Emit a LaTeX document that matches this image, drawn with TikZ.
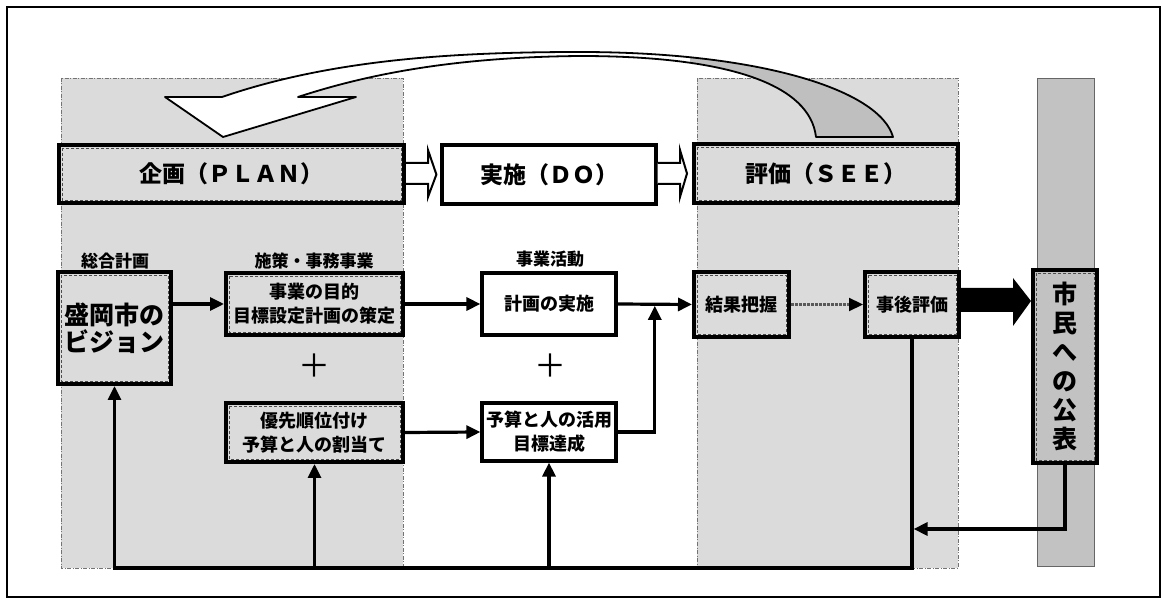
\documentclass[tikz,border=0pt]{standalone}
\usepackage{fontspec}
\newfontfamily\jp{Noto Sans CJK JP}
\usetikzlibrary{arrows.meta,calc}
\begin{document}
\begin{tikzpicture}[x=1pt,y=-1pt,
 region/.style={fill=gray!28, draw=black!55, dash pattern=on 4pt off 1.5pt on 1pt off 1.5pt, line width=0.6pt},
 shbox/.style={draw, line width=4pt, fill=gray!28, inner sep=0pt, align=center},
 whbox/.style={draw, line width=3.2pt, fill=white, inner sep=0pt, align=center},
 hdr/.style={font=\jp\bfseries\fontsize{23}{26}\selectfont},
 txt/.style={font=\jp\bfseries\fontsize{18}{24}\selectfont},
 lbl/.style={font=\jp\bfseries\fontsize{17}{20}\selectfont, inner sep=1pt},
 plus/.style={font=\jp\fontsize{32}{32}\selectfont, inner sep=0pt},
 conn/.style={line width=3.2pt, -{Triangle[length=14pt,width=13pt]}},
 hollow/.style={draw, line width=2pt, fill=white, line join=miter},
 innerfr/.style={draw=black!70, densely dashed, line width=0.5pt},
]
\useasboundingbox (0,0) rectangle (1163,601);
% frame
\draw[line width=1.5pt] (7,7) rectangle (1160,597);
% shaded regions
\path[region] (61,78) rectangle (403,568);
\path[region] (697,78) rectangle (958,568);
\path[fill=gray!48, draw=black!60, line width=0.6pt] (1037,78) rectangle (1094,566);
% curved feedback arrow
\path[save path=\swoosh] (222,97) -- (165,97) -- (223,137) -- (356,97) -- (298,97)
  .. controls (380,70) and (470,57) .. (580,56)
  .. controls (730,56) and (810,85) .. (816,137) -- (893,137)
  .. controls (880,90) and (760,52) .. (580,52)
  .. controls (450,52) and (330,60) .. (222,97) -- cycle;
\fill[white, use path=\swoosh];
\begin{scope}
 \clip[use path=\swoosh];
 \fill[gray!50] (690,40) rectangle (900,140);
\end{scope}
\draw[line width=1.8pt, line join=round, use path=\swoosh];
% header boxes
\node[shbox, hdr, minimum width=345pt, minimum height=58pt] (planH) at (231.5,174) {企画（ＰＬＡＮ）};
\node[whbox, hdr, minimum width=214pt, minimum height=59pt] (doH) at (549,174.5) {実施（ＤＯ）};
\node[shbox, hdr, minimum width=264pt, minimum height=59pt] (seeH) at (826,173.5) {評価（ＳＥＥ）};
% hollow arrows between headers
\filldraw[hollow] (planH.east |- 0,163) -- (428,163) -- (428,150) -- ($(doH.west)+(-4,0)$) -- (428,197) -- (428,184) -- (planH.east |- 0,184);
\filldraw[hollow] (doH.east |- 0,163) -- (680,163) -- (680,150) -- ($(seeH.west)+(-5,0)$) -- (680,197) -- (680,184) -- (doH.east |- 0,184);
% labels
\node[lbl] (l1) at (115,261) {総合計画};
\node[lbl] (l2) at (314,261) {施策・事務事業};
\node[lbl] (l3) at (550,259) {事業活動};
% boxes
\node[shbox, font=\jp\bfseries\fontsize{25}{27}\selectfont, minimum width=113pt, minimum height=112pt] (vision) at (114.5,328) {盛岡市の\\ビジョン};
\node[shbox, txt, minimum width=177pt, minimum height=62pt] (goal) at (314.5,304) {事業の目的\\目標設定計画の策定};
\node[shbox, txt, minimum width=177pt, minimum height=59pt] (prio) at (314.5,432.5) {優先順位付け\\予算と人の割当て};
\node[whbox, txt, minimum width=134pt, minimum height=62pt] (exec) at (549,304) {計画の実施};
\node[whbox, txt, minimum width=134pt, minimum height=58pt] (budget) at (549,432) {予算と人の活用\\目標達成};
\node[shbox, txt, minimum width=95pt, minimum height=65pt] (result) at (741.5,304.5) {結果把握};
\node[shbox, txt, minimum width=94pt, minimum height=65pt] (post) at (912,304.5) {事後評価};
\node[shbox, fill=gray!48, font=\jp\bfseries\fontsize{25}{29}\selectfont, minimum width=64pt, minimum height=193pt] (cit) at (1065,366.5) {市\\民\\へ\\の\\公\\表};
\node[plus] (p1) at (314,366) {＋};
\node[plus] (p2) at (550,366) {＋};
% inner dashed frames
\foreach \n in {planH,seeH,vision,goal,prio,result,post,cit}
  \draw[innerfr] ([shift={(5,5)}]\n.north west) rectangle ([shift={(-5,-5)}]\n.south east);
% connectors
\coordinate (jn) at ($(exec.east)!0.5!(result.west)$);
\draw[conn] (vision.east |- goal.west) -- (goal.west);
\draw[conn] (goal.east) -- (exec.west);
\draw[conn] (prio.east) -- (budget.west);
\draw[conn] (exec.east) -- (result.west);
\draw[conn, shorten >=1.6pt] (budget.east) -| (jn);
\draw[line width=2.2pt, draw=black!65, dash pattern=on 3pt off 1pt, -{Triangle[length=14pt,width=13pt,black]}] (result.east) -- (post.west);
\fill (post.east |- 0,288) -- (1013,288) -- (1013,278) -- (cit.west |- 0,301) -- (1013,326) -- (1013,312) -- (post.east |- 0,312) -- cycle;
\draw[conn] (post.south) |- (vision.south |- 0,568) -- (vision.south);
\draw[conn] (prio.south |- 0,568) -- (prio.south);
\draw[conn] (budget.south |- 0,568) -- (budget.south);
\draw[conn, shorten >=1.6pt] (cit.south) |- (post.south |- 0,529);
\end{tikzpicture}
\end{document}
